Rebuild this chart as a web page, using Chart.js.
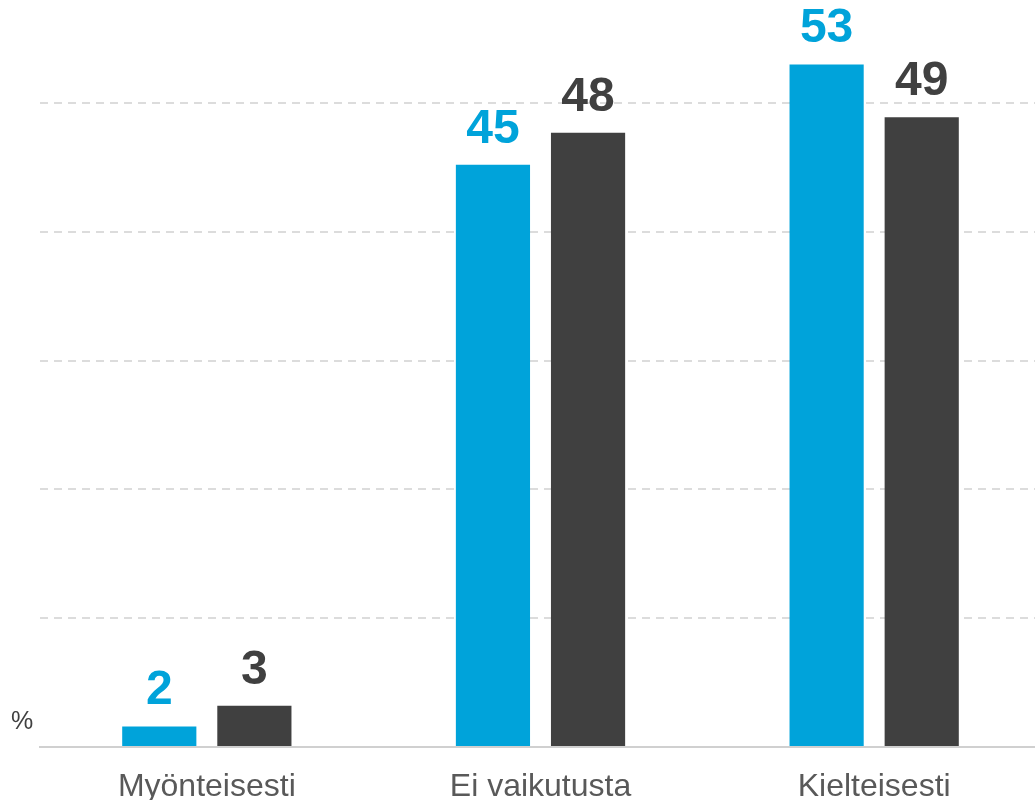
<!DOCTYPE html>
<html lang="fi">
<head>
    <meta charset="UTF-8">
    <title>Myönteisesti / Ei vaikutusta / Kielteisesti</title>
    <script src="https://cdn.jsdelivr.net/npm/chart.js"></script>
    <style>
        html, body {
            margin: 0;
            padding: 0;
            background: white;
            overflow: hidden;
        }
        #wrap {
            width: 1035px;
            height: 800px;
            overflow: hidden;
        }
    </style>
</head>
<body>
    <div id="wrap">
        <canvas id="chart" width="1041" height="800"></canvas>
    </div>

    <script>
        // values (labels are shown rounded)
        const categories = ['Myönteisesti', 'Ei vaikutusta', 'Kielteisesti'];
        const seriesA = [1.6, 45.2, 53.0];
        const seriesB = [3.2, 47.7, 48.9];
        const gridTicks = [0, 10, 20, 30, 40, 50];

        const BLUE = '#00a3da';
        const DARK = '#404040';

        // value labels above each bar
        const valueLabels = {
            id: 'valueLabels',
            afterDatasetsDraw(chart) {
                const ctx = chart.ctx;
                ctx.save();
                ctx.font = 'bold 48px "Liberation Sans", Arial, sans-serif';
                ctx.textAlign = 'center';
                ctx.textBaseline = 'alphabetic';
                chart.data.datasets.forEach((ds, i) => {
                    const meta = chart.getDatasetMeta(i);
                    ctx.fillStyle = ds.backgroundColor;
                    meta.data.forEach((bar, j) => {
                        ctx.fillText(String(Math.round(ds.data[j])), bar.x, bar.y - 22);
                    });
                });
                ctx.restore();
            }
        };

        // the small % unit at the left of the baseline
        const unitLabel = {
            id: 'unitLabel',
            afterDraw(chart) {
                const ctx = chart.ctx;
                ctx.save();
                ctx.font = '25px "Liberation Sans", Arial, sans-serif';
                ctx.fillStyle = DARK;
                ctx.textAlign = 'left';
                ctx.textBaseline = 'alphabetic';
                ctx.fillText('%', 11, 729);
                ctx.restore();
            }
        };

        new Chart(document.getElementById('chart'), {
            type: 'bar',
            data: {
                labels: categories,
                datasets: [
                    { data: seriesA, backgroundColor: BLUE },
                    { data: seriesB, backgroundColor: DARK }
                ]
            },
            options: {
                responsive: false,
                animation: false,
                categoryPercentage: 0.57,
                barPercentage: 0.78,
                layout: { padding: 0 },
                plugins: {
                    legend: { display: false },
                    tooltip: { enabled: false }
                },
                scales: {
                    x: {
                        grid: { display: true, drawOnChartArea: false, drawTicks: false },
                        border: { display: true, color: '#d0d0d0', width: 2 },
                        ticks: {
                            color: '#595959',
                            padding: 21,
                            font: { size: 32, family: '"Liberation Sans", Arial, sans-serif' }
                        },
                        afterFit(scale) { scale.height = 53; }
                    },
                    y: {
                        min: 0,
                        max: 58,
                        ticks: { display: false },
                        grid: {
                            drawTicks: false,
                            lineWidth: 2,
                            color: ctx => ctx.tick && ctx.tick.value === 0 ? 'rgba(0,0,0,0)' : '#dcdcdc'
                        },
                        border: { display: false, dash: [8, 6] },
                        afterBuildTicks(scale) {
                            scale.ticks = gridTicks.map(v => ({ value: v }));
                        },
                        afterFit(scale) { scale.width = 40; }
                    }
                }
            },
            plugins: [valueLabels, unitLabel]
        });
    </script>
</body>
</html>
